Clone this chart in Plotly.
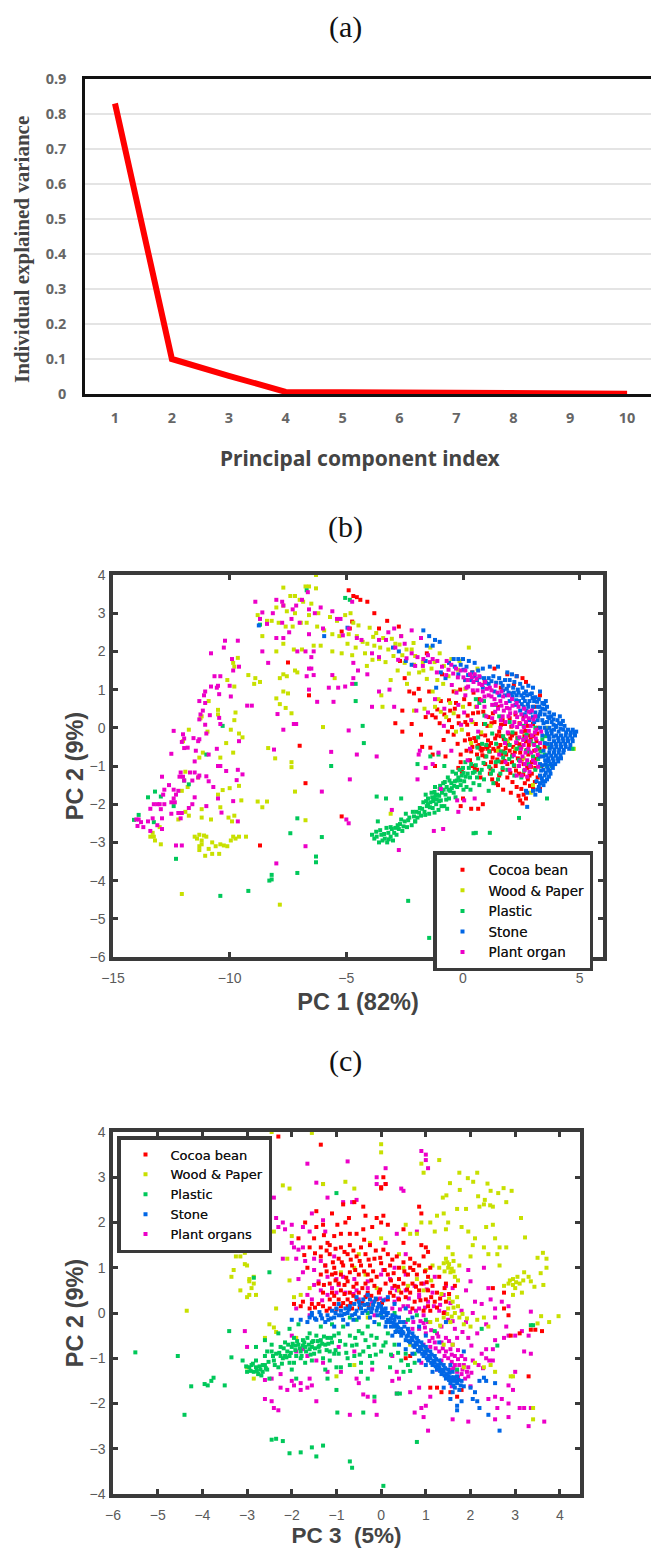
import plotly.graph_objects as go

PC_INDEX = [1, 2, 3, 4, 5, 6, 7, 8, 9, 10]
EXPLAINED = [0.83, 0.10, 0.052, 0.006, 0.005, 0.004, 0.002, 0.001, 0.001, 0.001]

COLORS = {"cocoa": "#ff0000", "wood": "#c8e000", "plastic": "#00c85a", "stone": "#0066e6", "plant": "#ec00c8"}

COCOA_B = [(-4.9,3.6),(-4.7,3.45),(-4.55,3.42),(-4.4,3.35),(-4.1,3.3),(-3.8,3.0),(-3.25,2.8),(-2.75,2.65),(-3.6,2.6),(-4.75,2.78),(-5.2,2.52),(-4.85,2.6),(-7.5,1.71),(-6.6,.85),(-7.0,-.47),(-6.75,-1.45),(-8.7,-3.08),(-5.2,-2.32),
(-2.5,1.3),(-2.3,.95),(-2.1,.9),(-1.9,1.02),(-2.6,.45),(-2.9,.12),(-2.6,-.1),(-2.2,.1),(-1.8,-.18),(-1.75,-.5),(-1.4,-.52),(-1.3,-.7),(-1.1,.48),(-1.0,.12),(-.8,.35),(-.6,.2),(-.4,-.18),(-.35,.5),(-.4,.95),(-.2,.3),(-.1,-.7),(-.2,-1.05),(-.1,-.9),(.1,.15),(.2,.32),(.3,-.3),(.35,-.62),(.4,-.5),(.45,.92),(.5,-1.05),(.6,-1.1),(.55,.1),(.65,.4),(.7,-.45),(.75,-.55),(.8,-.6),(.85,-.55),(.9,.1),(.95,-.95),(1.0,-.5),(1.05,-.55),(1.1,.28),(1.15,-.62),(1.2,-.4),(1.25,-1.35),(1.3,-.55),(1.35,.15),(1.4,-.6),(1.45,-.2),(1.5,-1.5),(1.55,-.1),(1.6,-.45),(1.65,-.9),(1.7,-1.1),(1.75,-.3),(1.8,.1),(1.85,-.7),(1.9,-1.3),(1.95,-.15),(2.0,-.6),(2.05,-1.7),(2.1,-.2),(2.15,-.5),(2.2,-1.0),(2.25,-.15),(2.3,-.4),(2.35,-.8),(2.4,-1.2),(2.45,-1.9),(2.5,-.5),(2.55,-.1),(2.6,-.95),(2.65,-1.45),(2.7,-.35),(2.75,-1.05),(2.8,-.7),(2.85,-1.25),(2.9,-.3),(2.95,-.9),(3.0,-1.55),(3.05,-.6),(3.1,-1.05),(3.15,-.35),(3.2,-1.3),(3.25,-.75),(3.3,-1.6),(3.35,-1.0),(2.55,-1.98),(2.7,-1.85),(.85,-2.0),(.65,-2.12),(.35,-2.12),(-.1,-2.05),(.0,-1.85),(.1,1.25),(.4,1.45),(1.35,1.55),(1.9,1.4),(2.3,1.35),(2.55,1.3),(2.7,1.2),(3.3,.85),(-.3,.65),(.05,.75),(-1.55,1.95),(-2.7,1.75),(-.9,1.4),(-.75,-.75),(-1.2,-1.0),(-.05,-1.15),(.75,-1.3),(1.2,-.9),(.95,-.2),(.55,-.35),(.3,-.85),(.15,-.6),(-.65,-.1),(-1.6,.28),(-.95,.7),(-1.45,.95),(-.55,.45),(.7,.75),(1.5,.55),(1.05,.05),(1.7,.2),(2.25,.35),(2.6,.3),(3.0,.1),(3.5,-.5),(2.85,-.2),(2.1,-.9),(1.55,-1.25),(1.15,-1.2),(1.9,-.95),(2.45,-.65),(3.2,.0),(1.4,-1.0),(.4,-1.0),(.6,-.7),(.95,-.75),(1.65,-.7),(2.3,-1.55),(2.95,-1.2),(2.5,-1.6),
(.62,-.48),(.83,-.72),(1.12,-.47),(1.27,-.78),(1.52,-.53),(1.73,-.62),(1.92,-.42),(2.12,-.71),(2.33,-.27),(2.52,-.83),(2.73,-.58),(2.91,-1.02),(3.12,-.81),(1.07,-.33),(1.38,-.28),(1.62,-.22),(1.83,-.53),(2.03,-.28),(2.22,-.63),(2.42,-.43),(2.63,-.22),(2.82,-.45),(3.02,-.22),(3.28,-.55),(1.18,-1.07),(1.47,-.83),(1.78,-.87),(2.03,-1.18),(2.27,-1.12),(2.58,-1.22),(2.78,-1.35),(3.08,-1.42),(2.87,-1.52),(.48,-.27),(.77,-.17),(1.22,.12),(1.63,.08),(2.07,.03),(2.42,.12),(2.77,.05),(.18,.08),(-.18,.12),(-.47,.02),(-.83,-.32),(-1.17,.27),(-.23,-.42),(.43,.38),(.87,.42),(1.28,.38),(2.0,.25),(.08,-.33),(.22,-.17),(-.6,.72),(-1.85,.72),(-1.32,.33),(-.12,1.0),(.28,.62),(.93,1.22),(1.62,1.05),(2.18,1.12),(3.05,.55),(3.18,-.15),(2.68,-.08),(1.42,-1.45),(1.72,-1.62),(2.12,-1.42),(2.38,-1.78),(2.6,-1.75)]

WOOD_B = [(-6.3,4.0),(-6.6,3.7),(-6.75,3.7),(-6.3,3.65),(-7.7,3.67),(-7.4,3.45),(-7.2,3.45),(-7.0,3.35),(-6.85,3.3),(-6.5,3.25),(-7.7,3.2),(-8.0,3.15),(-7.55,3.05),(-7.2,3.0),(-6.6,2.95),(-6.2,3.0),(-5.7,2.9),(-5.4,2.8),(-8.8,2.95),(-8.4,2.8),(-8.2,2.8),(-7.9,2.75),(-7.6,2.65),(-7.3,2.65),(-6.95,2.75),(-6.7,2.75),(-6.25,2.65),(-5.95,2.55),(-5.6,2.45),(-5.3,2.4),(-4.9,2.45),(-4.7,2.75),(-4.55,2.4),(-4.3,2.25),(-4.1,2.2),(-3.8,2.15),(-8.6,2.4),(-8.0,2.0),(-7.7,2.2),(-7.25,2.05),(-6.9,2.05),(-6.4,2.15),(-6.1,2.15),(-5.6,2.0),(-5.2,1.95),(-4.95,2.2),(-4.6,2.1),(-4.2,1.95),(-3.6,1.8),(-3.2,2.05),(-2.9,2.2),(-2.6,1.9),(-2.2,2.05),(-1.8,2.35),(-1.4,2.1),(-1.0,1.95),(-.5,1.8),(-.15,1.75),(.25,2.1),(-3.1,1.25),(-2.8,1.5),(-2.5,1.7),(-2.1,1.65),(-1.7,1.5),(-1.35,1.55),(-1.1,1.25),(-.85,1.15),(-.3,.95),(.0,.55),(-.55,.65),(-.4,.38),(-.05,-.05),(-9.65,1.83),(-9.8,1.6),(-9.85,1.7),(-10.1,1.25),(-9.8,1.08),(-9.2,1.38),(-8.9,1.3),(-8.7,1.2),(-8.95,1.15),(-7.7,1.4),(-7.55,1.35),(-7.85,1.3),(-7.2,1.5),(-7.1,1.45),(-7.7,.95),(-7.5,.9),(-8.0,.77),(-7.85,.62),(-7.6,.52),(-7.35,.38),(-10.5,.47),(-10.9,.7),(-11.2,.3),(-11.25,.25),(-10.95,-.1),(-10.5,.35),(-9.75,.4),(-9.8,.2),(-9.95,-.05),(-9.6,-.15),(-9.45,-.25),(-10.15,-.4),(-9.85,-.65),(-6.0,.02),(-5.5,1.3),(-11.75,-.05),(-12.0,-.35),(-8.35,-.53),(-8.05,-.8),(-7.35,-.9),(-7.35,-1.03),(-10.4,-.78),(-11.3,-.78),(-11.15,-.65),(-11.9,-1.15),(-11.8,-1.55),(-12.05,-1.65),(-11.35,-1.3),(-10.3,-1.63),(-10.0,-1.58),(-9.6,-1.52),(-10.5,-1.75),(-9.5,-1.9),(-8.8,-1.93),(-8.4,-1.93),(-8.6,-2.08),(-10.4,-2.08),(-10.05,-2.35),(-9.9,-2.45),(-9.8,-2.3),(-11.9,-2.2),(-11.75,-2.3),(-11.2,-2.13),(-11.2,-2.35),(-12.2,-2.4),(-10.8,-2.4),(-7.2,-1.67),(-6.75,-2.42),(-13.0,-2.6),(-13.3,-2.75),(-13.25,-2.85),(-13.4,-2.85),(-13.2,-2.95),(-12.95,-3.05),(-11.5,-2.85),(-11.4,-2.9),(-11.3,-2.8),(-11.2,-2.95),(-11.1,-2.82),(-11.0,-2.85),(-11.2,-3.05),(-11.3,-3.1),(-10.75,-3.0),(-10.6,-3.1),(-10.4,-3.05),(-10.25,-3.08),(-10.1,-3.1),(-9.95,-2.95),(-9.85,-2.85),(-9.75,-2.9),(-9.6,-2.85),(-9.3,-2.85),(-11.3,-3.2),(-10.9,-3.17),(-11.05,-3.35),(-10.75,-3.3),(-10.45,-3.3),(-12.05,-4.35),(-7.85,-4.63),(-3.1,-2.25),(-2.4,1.15),(-3.5,.85),(-3.45,.55),(-2.1,.45),(-1.65,.5),(-1.3,.95),(.4,.15),(3.6,.0),(.35,-.4),(1.5,-.6),(3.0,-1.5),(2.9,-1.7),(4.75,-.55),(-1.2,.55),(-.3,-.1),
(-5.05,2.95),(-4.82,3.0),(-4.48,2.68),(-4.0,2.62),(-3.72,2.48),(-3.42,2.35),(-3.05,2.33),(-2.72,2.18),(-2.42,2.05),(-2.05,1.88),(-1.72,1.72),(-1.88,1.45),(-3.88,1.78),(-4.12,1.62),(-3.32,1.72),(-2.98,1.88),(-2.32,1.42),(-1.55,1.28),(-1.22,1.72),(-.82,1.62),(-.62,1.35),(-.22,1.52),(-4.75,1.9),(-3.55,2.1),(-2.12,2.22),(-1.05,.75),(-.95,.42),(-.72,.28),(-3.85,2.38),(-2.65,2.4),(.55,.55),(.78,-.12),(1.18,.05),(1.9,-.35),(2.25,-.55),(2.6,-.8),(.1,1.02),(.62,1.55)]

PLASTIC_B = [(-14.1,-2.41),(-13.9,-2.28),(-13.5,-1.82),(-13.2,-1.67),(-13.25,-2.47),(-12.4,-2.05),(-11.75,-1.48),(-12.95,-1.8),(-11.95,-1.38),(-11.0,-.7),(-10.3,.05),(-8.7,2.7),(-6.7,3.6),(-4.85,3.35),(-5.05,3.4),(-7.1,-2.37),(-7.4,-2.76),(-6.05,-2.86),(-5.65,-1.0),(-12.3,-3.43),(-10.4,-4.4),(-9.2,-4.27),(-8.2,-3.85),(-8.2,-3.97),(-8.3,-4.0),(-7.1,-3.8),(-6.3,-3.37),(-6.3,-3.52),(-4.6,.7),(-4.6,1.15),(-2.35,-4.53),(-1.45,-5.5),(2.4,-2.36),(1.15,-2.75),(.55,-2.75),(.45,-2.76),(-3.7,-1.8),(-3.3,-1.85),(-2.65,-1.85),(-1.4,-.75),(-1.95,-.95),(-1.05,-.7),(-4.3,.05),(-4.25,-.4),
(-3.9,-2.8),(-3.8,-2.9),(-3.7,-2.85),(-3.6,-3.0),(-3.5,-2.8),(-3.45,-2.95),(-3.35,-2.9),(-3.25,-3.0),(-3.2,-2.75),(-3.1,-2.85),(-3.05,-2.65),(-3.0,-2.95),(-2.95,-2.75),(-2.85,-2.8),(-2.8,-2.55),(-2.75,-2.65),(-2.65,-2.4),(-2.6,-2.7),(-2.5,-2.45),(-2.4,-2.6),(-2.3,-2.35),(-2.2,-2.55),(-2.15,-2.2),(-2.05,-2.45),(-2.0,-2.2),(-1.95,-2.35),(-1.85,-2.1),(-1.8,-2.3),(-1.7,-1.95),(-1.65,-2.2),(-1.6,-1.75),(-1.55,-2.05),(-1.5,-1.85),(-1.45,-2.25),(-1.4,-1.95),(-1.35,-1.7),(-1.3,-2.1),(-1.25,-1.85),(-1.2,-1.55),(-1.15,-2.0),(-1.1,-1.75),(-1.05,-2.15),(-1.0,-1.6),(-.95,-1.9),(-.9,-1.7),(-.85,-1.45),(-.8,-2.05),(-.75,-1.75),(-.7,-1.55),(-.65,-1.3),(-.6,-1.85),(-.55,-1.65),(-.5,-1.45),(-.45,-1.15),(-.4,-1.7),(-.35,-1.4),(-.3,-1.2),(-.25,-1.55),(-.2,-1.3),(-.15,-1.1),(-.1,-1.5),(-.05,-1.25),(.0,-1.05),(.05,-1.4),(.1,-.9),(.15,-1.55),(.2,-1.2),(.3,-1.3),(.35,-.95),(.45,-1.45),(.5,-1.15),(.6,-1.3),(.65,-.8),(.7,-1.5),(.8,-1.1),(.9,-1.35),(1.0,-.75),(1.1,-1.65),(1.2,-1.2),(1.3,-1.45),(1.4,-.9),(1.5,-1.35),(1.6,-1.2),(1.7,-1.05),(1.8,-.65),(1.9,-1.1),(2.0,-.45),(2.1,-.75),(2.2,-1.25),(2.3,-.55),(2.4,-.85),(2.5,-1.3),(2.6,-.3),(2.7,-.6),(2.8,-.95),(2.9,-.35),(3.0,-.75),(3.1,-1.1),(3.2,-.5),(3.3,-1.0),(3.4,-.3),(3.5,-.7),(3.6,-1.0),(3.7,-.5),(3.8,-1.0),(4.7,-.55),(3.6,-1.85),(.7,.65),(.95,.1),(.65,-.25),(1.0,-.45),(1.25,-.15),(1.55,.3),(2.0,.15),(.55,.75),(3.1,.0),(2.6,.05),(-.8,-1.0),(.9,.7),(1.35,.6),(-2.05,-2.45),(-3.1,-2.6),(-2.45,-2.25),(-3.65,-2.45),
(-3.72,-2.72),(-3.55,-2.68),(-3.38,-2.78),(-3.28,-2.62),(-3.18,-2.92),(-2.9,-2.62),(-2.7,-2.52),(-2.55,-2.58),(-2.35,-2.42),(-2.1,-2.32),(-1.88,-2.22),(-1.75,-2.12),(-1.58,-1.92),(-1.42,-2.08),(-1.28,-1.92),(-1.12,-1.88),(-1.02,-1.78),(-.92,-2.05),(-.83,-1.62),(-.72,-1.88),(-.62,-1.62),(-.48,-1.58),(-.38,-1.52),(-.27,-1.38),(-.12,-1.38),(.02,-1.18),(.12,-1.28),(.25,-1.05),(.42,-1.18),(.55,-.98),(.72,-1.18),(.88,-.92),(1.12,-1.02),(1.28,-1.12),(1.52,-.88),(1.72,-.78),(1.98,-.82),(2.18,-.98),(2.35,-.28),(2.62,-1.12),(2.82,-.62),(3.22,-.82),(-1.22,-1.68),(-1.02,-1.92),(-.58,-1.38),(-1.5,-2.0),(-1.32,-1.82),(-.78,-1.42),(-1.18,-1.78),(-.98,-1.52),
(-1.62,-2.28),(-1.22,-2.22),(-.68,-2.12),(-.32,-1.82),(.02,-1.62),(.32,-1.62),(.62,-.52),(.82,-.42),(1.12,-.62),(1.42,-.42),(1.62,-.62),(1.82,-.32),(2.12,-.12),(2.42,-.52),(2.72,-.18),(3.02,-.42),(3.32,-.62),(3.52,-.22),(1.72,-.22),(.92,.32)]

STONE_B = [(-5.95,2.4),(-4.95,2.62),(-8.75,2.68),(-1.7,2.55),(-1.45,2.4),(-1.2,2.3),(-1.0,2.25),(-1.55,2.15),(-1.3,2.15),(-3.0,2.1),(-2.75,2.0),(-2.45,1.75),(-2.2,1.65),(-.4,1.8),(-.2,1.8),(.0,1.8),(.25,1.75),(.5,1.7),(-.6,1.7),(-.35,1.6),(-.1,1.65),(.15,1.6),(.4,1.45),(.65,1.5),(.85,1.55),(1.15,1.6),(1.5,1.6),(1.9,1.45),(2.1,1.4),(2.3,1.35),(.9,1.3),(1.1,1.3),(1.3,1.35),(1.55,1.3),(1.8,1.25),(2.0,1.25),(2.2,1.2),(2.45,1.15),(1.7,1.1),(1.95,1.1),(2.15,1.05),(2.35,1.0),(2.55,1.05),(2.7,.95),(2.05,.9),(2.3,.85),(2.5,.85),(2.75,.85),(2.95,.9),(3.1,.8),(2.4,.7),(2.65,.7),(2.85,.7),(3.05,.7),(3.25,.75),(3.4,.65),(2.6,.55),(2.8,.55),(3.0,.55),(3.2,.55),(3.4,.5),(3.6,.55),(3.7,.4),(2.9,.4),(3.1,.4),(3.3,.35),(3.5,.35),(3.7,.25),(3.9,.35),(4.05,.2),(3.2,.2),(3.4,.2),(3.6,.15),(3.8,.15),(4.0,.05),(4.2,.1),(4.35,.05),(3.5,.0),(3.7,.0),(3.9,-.05),(4.1,-.1),(4.3,-.05),(4.5,-.05),(4.7,-.05),(4.85,-.1),(3.6,-.15),(3.8,-.15),(4.0,-.2),(4.2,-.2),(4.4,-.2),(4.6,-.2),(4.8,-.2),(3.7,-.3),(3.9,-.35),(4.1,-.35),(4.3,-.35),(4.5,-.35),(4.7,-.35),(3.8,-.5),(4.0,-.5),(4.2,-.5),(4.4,-.5),(4.6,-.45),(3.7,-.65),(3.9,-.65),(4.1,-.65),(4.3,-.65),(4.05,-.8),(3.85,-.8),(3.65,-.8),(3.45,-.75),(4.2,-.8),(3.55,-.95),(3.75,-.95),(3.95,-.95),(3.3,-.95),(3.45,-1.1),(3.65,-1.1),(3.85,-1.05),(3.3,-1.25),(3.5,-1.25),(3.75,-1.2),(3.4,-1.4),(3.6,-1.35),(3.15,-1.4),(3.25,-1.55),(3.45,-1.5),(3.3,-1.65),(3.0,-1.65),(3.1,-1.75),(2.75,-1.7),(2.75,-2.07),(2.7,-1.65),(.35,1.25),(.6,1.25),(.1,1.25),(-.2,1.4),(.85,1.05),(1.1,1.15),(1.35,.95),(1.55,.85),(1.8,.85),(2.0,.7),(2.25,.6),(2.45,.45),(2.65,.35),(2.85,.2),(3.05,.15),(3.3,.0),(3.4,-.2),(3.5,-.4),(3.45,-.6),(3.3,-.75),(4.15,.3),(3.55,.7),(3.3,.95),(3.0,1.05),(2.8,1.1),(-.75,1.3),(-1.15,1.05),(-.95,1.45),(-1.6,1.75),
(1.62,1.18),(1.88,1.02),(2.12,.82),(2.38,.92),(2.58,.78),(2.78,.62),(2.98,.78),(3.18,.68),(3.32,.42),(3.52,.48),(3.78,.3),(2.72,.45),(3.0,.28),(3.22,.3),(3.45,.12),(3.65,.28),(3.88,.22),(4.12,.12),(4.28,.18),(3.58,-.07),(3.78,-.07),(3.98,.02),(4.18,-.02),(4.42,-.12),(4.62,-.12),(4.78,-.13),(3.68,-.22),(3.88,-.23),(4.08,-.27),(4.28,-.28),(4.48,-.28),(4.68,-.28),(3.62,-.42),(3.78,-.42),(3.98,-.42),(4.18,-.42),(4.38,-.42),(4.55,-.55),(3.72,-.55),(3.92,-.57),(4.12,-.57),(4.32,-.58),(3.58,-.72),(3.78,-.73),(3.98,-.73),(4.18,-.72),(3.52,-.85),(3.68,-.88),(3.88,-.88),(4.08,-.88),(3.42,-.98),(3.62,-1.02),(3.82,-.98),(3.35,-1.12),(3.55,-1.18),(3.72,-1.12),(3.38,-1.32),(3.52,-1.4),(3.68,-1.28),(3.3,-1.45),(3.18,-1.62),(1.42,1.18),(1.22,1.22),(.98,1.18),(.72,1.32),(.5,1.35),(.22,1.38),(.02,1.52),(2.52,.62),(2.28,.72),(2.18,.92),(1.95,.92),(1.72,.98),(3.88,.08),(3.28,.55),(3.48,.62),(2.88,.88),(2.62,.9)]

PLANT_B = [(-8.9,3.3),(-8.0,3.35),(-7.75,3.3),(-7.7,3.2),(-7.3,3.1),(-7.15,3.2),(-6.9,3.35),(-6.65,3.55),(-6.1,3.15),(-5.6,3.05),(-5.25,2.85),(-4.75,3.3),(-8.6,3.02),(-8.7,2.85),(-8.4,2.72),(-8.15,3.0),(-7.75,2.75),(-7.35,2.85),(-7.0,2.75),(-6.6,3.1),(-6.35,3.0),(-6.0,2.6),(-5.4,2.85),(-5.15,2.42),(-4.9,2.6),(-4.55,2.35),(-4.35,2.3),(-7.45,2.5),(-8.0,2.35),(-7.7,2.35),(-7.1,2.0),(-6.75,2.0),(-6.6,2.45),(-6.4,2.0),(-6.5,1.85),(-6.5,1.55),(-6.4,1.38),(-6.7,1.35),(-6.6,1.55),(-5.6,1.38),(-5.35,1.05),(-5.05,1.08),(-4.75,1.15),(-4.7,1.3),(-4.5,1.5),(-4.7,1.7),(-4.1,1.4),(-3.9,1.95),(-3.6,2.3),(-3.2,2.5),(-2.95,2.6),(-2.65,2.4),(-2.2,2.55),(-1.8,2.35),(-8.6,2.0),(-8.35,1.7),(-9.6,1.6),(-9.85,1.5),(-9.9,1.8),(-10.25,2.1),(-10.2,2.28),(-9.65,2.28),(-10.8,1.95),(-10.0,1.1),(-10.4,1.35),(-10.65,1.35),(-10.5,1.1),(-10.55,1.05),(-10.8,1.08),(-10.45,.88),(-9.95,.82),(-11.05,.95),(-11.1,.85),(-11.3,.7),(-11.05,.65),(-11.15,.45),(-11.25,.35),(-11.3,.22),(-10.85,.33),(-10.45,.26),(-11.05,.08),(-10.4,.1),(-11.0,-.15),(-11.3,-.3),(-11.35,-.35),(-9.25,.58),(-9.05,.58),(-7.95,.36),(-7.15,.1),(-7.25,.1),(-7.7,-.05),(-8.1,-.57),(-5.65,-.63),(-4.55,-.7),(-4.9,-.07),(-5.55,.68),(-6.25,.68),(-5.75,1.05),(-6.6,1.0),(-5.0,-2.4),(-4.9,-2.5),(-4.85,-1.35),(-6.05,-1.67),(-6.75,-3.1),(-8.0,-3.55),(-12.4,-.08),(-12.5,-.68),(-12.0,-.17),(-11.95,-.28),(-12.05,-.37),(-11.8,-.52),(-11.95,-.53),(-11.55,-.27),(-11.45,-.6),(-11.5,-.88),(-10.5,-1.0),(-10.4,-1.0),(-10.15,-1.13),(-10.55,-.55),(-10.9,-.7),(-9.6,-.35),(-9.65,-1.1),(-9.45,-1.22),(-9.7,-1.37),(-9.85,-1.92),(-9.65,-2.45),(-10.5,-1.85),(-10.35,-2.22),(-11.0,-1.27),(-10.9,-1.4),(-10.7,-1.55),(-11.35,-1.3),(-11.5,-1.17),(-11.3,-1.25),(-11.7,-1.17),(-11.6,-1.38),(-12.1,-1.17),(-12.15,-1.28),(-11.95,-1.38),(-12.0,-1.28),(-12.9,-1.28),(-12.6,-1.5),(-12.8,-1.62),(-12.4,-1.62),(-12.2,-1.65),(-12.3,-1.75),(-12.4,-1.85),(-12.5,-1.95),(-12.35,-1.95),(-12.85,-1.75),(-13.0,-2.0),(-13.1,-2.0),(-13.25,-2.0),(-12.8,-2.0),(-13.4,-2.12),(-12.95,-2.13),(-12.5,-2.25),(-12.2,-2.23),(-12.05,-2.23),(-11.6,-2.0),(-11.75,-2.1),(-12.1,-2.37),(-13.3,-2.37),(-12.9,-2.37),(-14.0,-2.4),(-13.9,-2.4),(-13.8,-2.47),(-13.95,-2.57),(-13.7,-2.6),(-13.5,-2.45),(-13.1,-2.55),(-13.4,-2.7),(-12.9,-2.65),(-12.3,-3.08),(-12.05,-3.08),(-11.5,-1.82),(-11.0,-2.05),
(-3.6,1.85),(-3.3,2.3),(-2.9,2.1),(-2.5,2.2),(-2.2,1.95),(-1.95,1.85),(-1.7,1.8),(-1.5,1.9),(-1.3,1.8),(-1.1,1.75),(-.9,1.6),(-.7,1.75),(-.5,1.65),(-.3,1.55),(-.1,1.5),(.1,1.5),(.3,1.4),(.5,1.4),(.7,1.35),(.2,1.25),(.45,1.2),(.7,1.15),(.95,1.2),(1.15,1.05),(1.4,1.1),(1.65,.95),(.85,.95),(1.1,.85),(1.35,.75),(1.6,.7),(1.85,.65),(2.1,.75),(2.3,.65),(1.25,.6),(1.5,.5),(1.75,.45),(2.0,.5),(2.25,.4),(2.5,.35),(2.7,.3),(2.95,.45),(3.1,.3),(1.95,.3),(2.2,.15),(2.45,.1),(2.7,.15),(2.9,.05),(3.15,-.05),(2.5,-.1),(2.7,-.25),(2.95,-.2),(2.6,-.45),(2.8,-.55),(3.05,-.45),(2.55,-.75),(2.75,-.85),(3.0,-.85),(2.4,-1.0),(2.65,-1.1),(2.85,-1.15),(2.3,-1.25),(3.2,-.7),(3.3,-.4),(3.35,-.1),(-.2,.6),(.1,.85),(.6,.55),(.35,.2),(.65,-.1),(.3,-.55),(.2,-.85),(-.5,-.6),(-1.05,-.65),(-1.3,-.95),(-1.6,-1.05),(-1.9,-.7),(-1.95,-1.35),(-1.85,-.6),(-.95,-1.6),(-.25,-1.9),(.05,-1.9),(.5,-1.85),(-.2,-2.2),(-.85,-2.65),(-1.25,-2.7),(-2.75,-3.2),(-3.05,-2.15),(-3.7,-.75),(-.8,.5),(-1.2,.75),(-1.5,.4),(-2.0,.45),(-2.95,.55),(-3.15,1.0),(-3.6,.95),(-3.9,.55),(1.25,.25),(1.6,.0),(1.8,-.4),(1.55,-.7),(2.0,-1.1),(1.7,.3),(1.0,.3),
(-.62,1.52),(-.42,1.42),(-.22,1.32),(.02,1.32),(.22,1.08),(.38,1.32),(.58,1.28),(.82,1.12),(1.02,1.02),(1.22,.98),(.62,.98),(.42,.98),(.92,.82),(1.22,.82),(1.48,.92),(1.72,.82),(1.95,.85),(1.42,.62),(1.65,.58),(1.88,.52),(2.12,.58),(2.38,.55),(2.62,.5),(2.82,.42),(2.02,.38),(2.32,.28),(2.58,.22),(2.82,.25),(3.02,.22),(2.12,.05),(2.32,.02),(2.62,.02),(2.82,-.08),(3.08,-.12),(2.42,-.25),(2.58,-.32),(2.85,-.35),(3.12,-.28),(2.48,-.55),(2.68,-.65),(2.92,-.65),(3.12,-.58),(2.45,-.88),(2.65,-.95),(2.88,-1.0),(3.1,-.92),(2.52,-1.25),(2.75,-1.28),(1.82,.15),(1.62,.2),(.92,.55),(.78,.72),(.15,1.05),(-1.42,1.72),(-1.72,1.62),(-2.05,1.62),(-2.42,1.82),(-2.78,1.78),(-1.12,1.45),(-.72,1.38),(-.48,1.12),(-.28,.92),(1.38,.42),(.05,.4),(-.08,.08),(-.82,.05),(1.82,-.9),(2.18,-.72),(2.28,-.38),(1.92,-.12),(3.22,-1.02)]

COCOA_C = [(-2.3,3.9),(-1.35,3.72),(.05,3.0),(.0,2.75),(.1,2.85),(.0,2.78),(-.85,2.4),(-1.45,2.25),(-1.1,2.2),(-.8,2.0),(-.6,2.45),(-.4,2.35),(-.35,2.15),(-.1,2.1),(.05,2.15),(.0,2.0),(.85,2.35),(.9,2.2),(-1.7,2.0),(-1.45,1.9),(-1.3,1.95),(-1.85,1.65),(-1.5,1.65),(-1.2,1.55),(-1.05,1.7),(-.9,1.75),(-.7,1.75),(-.55,1.75),(-.4,1.85),(-.2,1.9),(.15,1.95),(.5,1.85),(-1.6,1.45),(-1.35,1.45),(-1.15,1.5),(-.9,1.45),(-.7,1.5),(-.45,1.45),(-.25,1.5),(.05,1.4),(.5,1.55),(.9,1.5),(1.0,1.45),(-1.35,1.25),(-1.15,1.3),(-.95,1.2),(-.75,1.3),(-.55,1.25),(-.35,1.3),(-.15,1.2),(.15,1.3),(.35,1.25),(.65,1.2),(.95,1.25),(1.05,1.35),(-1.65,1.0),(-1.25,1.05),(-1.05,1.0),(-.85,1.05),(-.65,1.05),(-.45,1.05),(-.25,1.05),(0,1.1),(.2,1.05),(.4,1.0),(.65,1.0),(.85,1.05),(1.1,1.0),(-1.35,.85),(-1.1,.85),(-.9,.85),(-.7,.9),(-.5,.85),(-.3,.85),(-.1,.8),(.15,.85),(.4,.75),(.6,.85),(.8,.85),(1.05,.8),(1.3,.8),(-1.4,.65),(-1.15,.65),(-.95,.65),(-.75,.7),(-.55,.65),(-.35,.65),(-.15,.6),(.1,.65),(.3,.6),(.5,.65),(.7,.65),(.9,.65),(1.15,.6),(1.45,.65),(-1.3,.45),(-1.1,.45),(-.9,.5),(-.7,.45),(-.5,.45),(-.3,.45),(-.05,.45),(.2,.45),(.45,.45),(.65,.45),(.85,.5),(1.05,.5),(1.25,.45),(1.65,.6),(-1.15,.3),(-.95,.3),(-.75,.3),(-.55,.3),(-.35,.35),(-.1,.3),(.15,.3),(.4,.3),(.75,.25),(1.0,.3),(1.2,.25),(1.45,.25),(-1.95,.2),(-1.8,.15),(-1.75,.25),(-1.6,.1),(-1.55,.2),(-1.4,.2),(-1.3,.15),(-1.15,.1),(-1.05,.2),(-.9,.15),(-.75,.15),(-.65,.1),(2.5,.55),(2.75,.45),(2.75,.1),(2.85,-.05),(3.35,-.37),(3.45,-.37),(3.6,-.4),(3.1,-.45),(2.9,-.5),(3.3,-1.4),(1.1,-1.65),(1.25,-1.65),(1.35,-1.75),(1.55,-1.75),(1.7,-1.85),(1.8,-1.7),(.55,-1.0),(.65,-.95),(1.1,.05),(1.4,.0),(.95,.05),(.7,.1),
(-1.28,.62),(-1.02,.72),(-.82,.62),(-.62,.58),(-.42,.55),(-.22,.72),(-.02,.52),(.22,.72),(.38,.58),(.58,.52),(.78,.58),(1.02,.68),(-1.22,.92),(-1.02,.88),(-.78,.78),(-.58,.95),(-.38,.92),(-.18,.92),(.08,.95),(.28,.88),(.52,.92),(.72,.95),(.98,.92),(-1.08,1.12),(-.88,1.12),(-.68,1.18),(-.48,1.15),(-.28,1.18),(-.02,1.22),(.25,1.18),(.5,1.12),(.75,1.1),(-1.22,1.38),(-1.02,1.42),(-.82,1.35),(-.62,1.38),(-.38,1.62),(-.12,1.38),(-1.05,.38),(-.85,.22),(-.62,.38),(-.42,.22),(-.22,.38),(.02,.22),(.28,.38),(.55,.35),(.88,.28),(1.12,.35),(1.32,.32),(-1.48,.12),(-1.22,.05),(-1.0,.08),(-.82,.42),(-.68,.22),(-.48,.12),(-.28,.18),(1.05,.15),(1.25,.12),(1.52,.42),(1.42,.55),(-1.72,1.28),(-1.48,1.32),(-1.28,1.72),(-.98,1.95),(-.72,2.1)]

WOOD_C = [(-2.45,4.0),(-1.55,3.98),(.0,3.73),(.0,3.55),(1.3,3.38),(.9,3.3),(.95,3.1),(-.8,2.9),(-.6,2.75),(-1.3,2.85),(-2.2,2.82),(-2.05,2.75),(1.75,3.1),(2.15,3.1),(1.94,2.98),(2.06,2.9),(2.38,2.86),(2.74,2.76),(2.92,2.7),(2.62,2.65),(2.45,2.7),(1.54,2.87),(1.76,2.72),(1.46,2.6),(1.38,2.55),(2.17,2.58),(2.32,2.5),(2.44,2.38),(2.5,2.35),(2.3,2.4),(2.2,2.35),(1.9,2.3),(2.8,2.45),(3.13,2.1),(3.22,1.67),(3.62,1.33),(3.7,1.2),(3.5,1.22),(3.7,1.0),(3.63,.62),(3.43,.58),(3.57,.88),(2.95,.75),(2.85,.65),(2.75,.6),(3.05,.8),(3.2,.9),(3.3,.8),(3.35,.7),(3.0,.55),(3.1,.65),(3.15,.45),(2.95,.4),(3.97,-.07),(3.76,-.2),(3.58,-.07),(3.5,-.23),(1.7,2.3),(1.4,2.2),(1.25,2.15),(1.1,2.0),(.9,2.0),(.55,1.95),(.65,1.75),(.8,1.75),(1.2,1.8),(1.45,1.85),(1.5,2.0),(1.8,1.9),(1.95,1.8),(2.1,1.65),(2.35,1.9),(2.5,1.95),(2.55,1.65),(2.65,1.45),(2.3,1.45),(2.05,1.5),(2.8,1.45),(2.6,1.3),(2.65,1.05),(2.0,1.25),(2.4,1.3),(1.5,1.45),(1.6,1.3),(1.45,1.2),(1.4,1.1),(1.5,1.0),(1.55,.9),(1.65,.8),(1.75,1.05),(1.3,1.0),(1.15,1.05),(1.0,.95),(.5,1.0),(.4,1.3),(1.7,.35),(1.6,.25),(1.5,.1),(1.65,.0),(1.75,-.1),(1.55,-.2),(1.4,-.1),(1.25,-.15),(1.1,-.2),(1.85,-.25),(2.0,-.3),(2.15,-.15),(2.3,-.1),(2.4,-.3),(1.4,-.7),(1.6,-.7),(1.85,-1.2),(2.1,-1.1),(2.3,-1.2),(2.45,-1.15),(2.55,-1.3),(3.4,-2.1),(3.4,-2.35),(2.9,-1.4),(2.95,-1.4),
(-4.35,.05),(-3.15,1.25),(-3.05,1.33),(-3.05,1.08),(-3.0,1.05),(-3.25,1.25),(-3.3,.95),(-3.35,.8),(-3.15,.5),(-3.0,.35),(-2.95,.4),(-2.9,.55),(-2.85,.65),(-2.8,.4),(-2.95,.7),(-2.95,.75),(-2.85,.8),(-3.0,1.6),(-2.95,1.6),(-2.85,1.48),(-2.4,1.8),(-2.0,1.7),(-2.1,1.2),(-2.05,.72),(-1.95,.35),(-1.8,.4),(-1.6,.55),(-2.35,.1),(-2.5,-.25),(-2.4,-.32),(-2.35,-.42),(-2.6,-.55),(-2.75,-1.35),(-2.85,-1.45),(-3.0,-1.2),(-1.9,-.55),(-1.0,-1.4),(-.6,-1.15),(-.9,.9),(-.6,1.0),(-.35,.85),(-.1,.55),(.4,.5),(.6,.6),(.8,.75),(.95,.5),(-.3,-.1),(.65,-.7),(1.0,-.8),(-.25,1.55),(-.5,1.3),(.0,1.65),
(1.48,1.12),(1.52,1.08),(1.58,.98),(1.62,.92),(1.72,.72),(1.42,.92),(1.62,1.15),(1.35,.42),(1.52,.32),(1.62,.12),(1.72,.15),(1.82,-.02),(1.48,-.02),(1.32,-.28),(1.58,-.08),(1.92,-.12),(1.12,.72),(2.95,.62),(3.02,.68),(2.88,.72),(3.18,.72)]

PLASTIC_C = [(-5.5,-.87),(-4.55,-.95),(-4.25,-1.62),(-3.95,-1.57),(-3.88,-1.6),(-3.75,-1.43),(-3.8,-1.5),(-4.4,-2.25),(-3.5,-1.6),(-3.4,-.4),(-3.35,-.98),(-2.45,-2.8),(-2.35,-2.78),(-2.2,-2.83),(-2.05,-3.1),(-1.8,-3.08),(-1.55,-2.97),(-1.3,-2.93),(-1.45,-3.17),(-.7,-3.28),(-.65,-3.42),(.05,-3.82),(.8,-2.85),(-2.85,.78),(-2.5,.9),(-1.0,2.65),(-.15,-1.85),(-1.0,-1.7),(-.4,-2.2),(-.98,-2.2),(.35,-1.78),(.42,-1.78),(2.6,-.72),(3.35,-.27),(3.4,-.27),
(-3.1,-1.05),(-3.0,-1.3),(-2.95,-1.2),(-2.9,-1.15),(-2.85,-1.3),(-2.8,-1.2),(-2.8,-1.05),(-2.75,-1.35),(-2.7,-1.25),(-2.65,-1.15),(-2.65,-1.3),(-2.6,-.95),(-2.55,-1.25),(-2.5,-1.45),(-2.45,-.85),(-2.4,-1.05),(-2.35,-.9),(-2.3,-1.2),(-2.25,-.75),(-2.2,-1.0),(-2.15,-.65),(-2.1,-.85),(-2.05,-1.1),(-2.0,-.75),(-1.95,-.55),(-1.9,-.95),(-1.85,-.7),(-1.8,-.85),(-1.75,-.6),(-1.7,-.75),(-1.7,-1.1),(-1.65,-.55),(-1.6,-.8),(-1.55,-.65),(-1.5,-.9),(-1.45,-.5),(-1.4,-.75),(-1.35,-.6),(-1.3,-1.0),(-1.25,-.7),(-1.2,-.55),(-1.15,-.85),(-1.1,-.65),(-1.05,-.5),(-1.0,-1.2),(-.95,-.45),(-2.6,-.6),(-2.3,-.45),(-2.05,-.35),(-1.85,-.25),(-1.6,-.45),(-1.35,-.3),(-1.1,-.25),(-.95,-.9),(-.85,-.3),(-.8,-.7),(-.75,-1.0),(-.7,-.5),(-.6,-.95),(-.55,-.15),(-.55,-.7),(-.5,-.4),(-.45,-1.1),(-.4,-.85),(-.35,-.6),(-.3,-.3),(-.25,-.95),(-.2,-1.1),(-.15,-.7),(-.1,-.55),(-.05,-.25),(.0,-.85),(.1,-.65),(.15,-.45),(.2,-1.2),(.3,-.7),(.35,-.3),(.45,-1.05),(.55,-.9),(.6,-1.15),(.75,-1.1),(-.9,-1.2),(-.7,-1.15),(-.45,-1.3),(-.3,-1.45),(-2.15,-.95),(-1.95,-1.1),(-2.45,-.7),(-2.8,-.75),(-1.55,-1.05),(-1.25,-1.25),(-1.15,-1.05),(.5,-1.3),(.65,-1.28),(.75,-.9),(1.0,-.15),(.8,-.05),(.6,-.15),(.3,.0),(.0,-.05),(-.3,.0),(-.7,-.1),(-1.9,-1.45),(-2.0,-1.25),(-1.8,-1.0),(-2.6,-1.15),(-2.55,-.85),(-1.2,-1.45),(-1.05,-.9),(1.7,-1.25),(1.2,-.4),(2.25,-.35),
(-3.02,-1.18),(-2.92,-1.28),(-2.87,-1.12),(-2.78,-1.28),(-2.72,-1.18),(-2.68,-1.38),(-2.58,-1.22),(-2.52,-1.08),(-2.42,-.95),(-2.38,-1.15),(-2.28,-.88),(-2.22,-1.12),(-2.18,-.78),(-2.12,-.98),(-2.08,-.7),(-2.02,-.88),(-1.98,-.68),(-1.92,-.82),(-1.88,-.62),(-1.82,-.78),(-1.78,-.95),(-1.72,-.65),(-1.68,-.85),(-1.62,-.7),(-1.58,-.92),(-1.52,-.62),(-1.48,-.78),(-1.42,-.62),(-1.38,-.85),(-1.32,-.68),(-1.28,-.52),(-1.22,-.82),(-1.18,-.68),(-1.12,-.55),(-1.92,-.72),(-1.75,-.72),(-1.55,-.75),(-1.38,-.72),(-2.25,-.95),(-2.05,-.95),(-.92,-.62),(-.65,-.72),(-.48,-.92),(-.28,-.75),(-.12,-.92),(.05,-.72),(.22,-.92),(.38,-.88),(-.78,-.88),(-.58,-.55),(-.42,-.45),(-.22,-.5),(-1.02,-.82)]

STONE_C = [(-1.55,-.05),(-1.6,-.1),(-1.55,.0),(-1.45,-.15),(-1.35,-.05),(-1.25,-.2),(-1.2,-.05),(-1.1,.05),(-1.05,-.1),(-1.0,.1),(-.95,-.05),(-.9,.05),(-.85,-.15),(-.8,.1),(-.75,.0),(-.7,.15),(-.65,-.05),(-.6,.2),(-.55,.05),(-.5,.25),(-.45,.1),(-.4,.3),(-.35,.05),(-.3,.2),(-.25,.3),(-.2,.1),(-.15,.25),(-.1,.05),(-.05,.2),(.0,.0),(.0,.15),(.05,-.1),(.1,.1),(.15,-.15),(.15,.0),(.2,-.2),(.25,-.05),(.3,-.3),(.3,-.15),(.35,-.4),(.35,-.25),(.4,-.1),(.45,-.35),(.45,-.5),(.5,-.2),(.5,-.45),(.55,-.6),(.6,-.35),(.6,-.5),(.65,-.65),(.7,-.45),(.7,-.6),(.75,-.75),(.8,-.55),(.8,-.7),(.85,-.85),(.9,-.65),(.9,-.8),(.95,-.95),(1.0,-.75),(1.0,-.9),(1.05,-1.05),(1.1,-.85),(1.1,-1.0),(1.15,-1.15),(1.2,-.95),(1.2,-1.1),(1.25,-1.25),(1.3,-1.05),(1.3,-1.2),(1.35,-1.35),(1.4,-1.15),(1.4,-1.3),(1.45,-1.45),(1.5,-1.25),(1.5,-1.4),(1.55,-1.55),(1.6,-1.3),(1.6,-1.5),(1.65,-1.65),(1.7,-1.4),(1.7,-1.55),(1.75,-1.7),(1.8,-1.5),(1.85,-1.62),(2.0,-1.65),(2.1,-1.75),(2.2,-1.5),(2.3,-1.43),(2.35,-1.5),(2.55,-1.55),(2.65,-2.6),(2.15,-1.95),(2.2,-2.1),(2.4,-2.25),(2.05,-1.9),(1.7,-2.05),(1.7,-2.15),(1.55,-1.9),(1.8,-1.95),(1.6,-1.75),(1.4,-1.65),(-2.0,-.15),(-1.8,-.15),(-1.65,-.2),(.3,.2),(.15,.35),(.55,.1),(.7,-.1),(.85,-.3),(1.45,-.2),(1.0,-.5),(1.3,-.65),(1.55,-1.15),(1.85,-.85),(-.25,-.1),(-.5,-.1),(-.75,-.25),(-1.05,-.3),(-.15,-.2),(.1,-.3),(.25,-.5),(.4,-.7),(.55,-.8),(.7,-.9),(.85,-1.05),(1.0,-1.15),(1.15,-1.3),(-.95,.2),(-.55,.35),(-.3,.4),
(-1.48,-.12),(-1.32,-.12),(-1.18,-.15),(-1.02,.0),(-.88,-.05),(-.72,.08),(-.58,-.02),(-.48,.18),(-.38,.18),(-.28,.1),(-.18,.18),(-.08,.12),(.02,.08),(.08,.02),(.12,-.05),(.22,-.12),(.28,-.22),(.32,-.08),(.38,-.32),(.42,-.2),(.48,-.42),(.52,-.3),(.57,-.52),(.62,-.42),(.68,-.55),(.73,-.52),(.77,-.65),(.83,-.62),(.87,-.75),(.93,-.72),(.97,-.85),(1.03,-.82),(1.07,-.95),(1.13,-.92),(1.17,-1.05),(1.23,-1.02),(1.27,-1.15),(1.33,-1.12),(1.37,-1.25),(1.43,-1.22),(1.47,-1.35),(1.53,-1.32),(1.57,-1.42),(1.63,-1.42),(1.67,-1.5),(1.73,-1.48),(1.78,-1.6),(1.62,-1.6),(1.52,-1.48),(.62,-.62),(.72,-.72),(.82,-.82),(.92,-.9),(1.02,-1.0),(1.12,-1.1),(1.22,-1.18),(1.32,-1.28),(1.42,-1.38),(.42,-.42),(.32,-.42),(.22,-.3),(.12,-.2),(.02,-.1),(-.08,-.05),(-.22,.02),(-.42,.0),(-.62,-.15),(-.82,-.02),(-1.12,-.12),(-1.38,.02),(-.12,.32),(.05,.28)]

PLANT_C = [(-2.4,2.55),(-2.65,2.75),(-2.55,2.75),(-.75,3.35),(-.1,3.0),(-.1,2.85),(-1.65,3.3),(-1.45,2.88),(-1.3,2.85),(.9,3.58),(1.0,3.5),(1.0,3.38),(1.05,3.2),(.1,2.85),(.1,3.2),(.45,2.75),(.5,2.7),(-.85,2.45),(-.55,2.5),(-.65,2.45),(-1.2,2.55),(-2.35,2.1),(-2.2,2.0),(-2.3,1.9),(-2.15,1.85),(-2.0,1.95),(-1.55,2.2),(-1.75,1.9),(-1.6,1.8),(-1.25,1.8),(-1.3,2.05),(-2.0,1.55),(-1.85,1.4),(-1.95,1.45),(-1.75,1.45),(-1.5,1.2),(-1.35,1.15),(-2.2,1.2),(-1.9,1.2),(-1.7,1.15),(-1.25,1.05),(-1.05,1.25),(-1.2,.8),(-.85,.8),(-.6,.75),(-.3,.7),(.0,.85),(.3,1.0),(.55,1.3),(.8,1.8),(.35,1.75),(.1,1.55),(-1.65,.4),(-1.55,.3),(-1.9,.1),(-1.6,-.05),(-1.0,.45),(-1.35,.5),(-.55,.5),(-.3,.55),(-.05,.5),(.25,.55),(.55,.5),(.85,.35),(1.15,.45),(1.4,.4),(1.6,.55),(1.9,.5),(2.0,.7),(1.95,.95),(2.3,1.0),(2.4,.55),(2.05,.0),(2.25,.2),(2.1,.25),(2.45,.3),(2.55,.1),(2.7,.25),(2.85,.15),(2.55,-.1),(2.35,-.25),(2.8,-.3),(2.85,-.5),(3.0,-.5),(3.15,-.4),(3.35,0.03),(3.3,-.5),(2.55,-.6),(2.75,-.55),(2.35,-.8),(2.5,-.8),(3.2,-.85),(3.35,-.9),(2.35,-1.0),(2.5,-1.05),(3.0,-1.3),(2.85,-1.6),(2.95,-1.7),(2.7,-1.9),(2.85,-2.0),(3.1,-2.1),(2.55,-1.85),(2.4,-1.9),(2.6,-2.1),(3.2,-2.1),(3.35,-2.1),(3.3,-2.5),(3.65,-2.4),(2.55,-2.35),(2.85,-2.3),(1.95,-2.4),(1.6,-2.35),(.75,-2.2),(.9,-2.1),(1.0,-2.05),(.95,-2.3),(1.05,-2.6),(.85,-1.65),(1.1,-1.85),(.65,-1.75),(.35,-1.78),(.25,-1.5),(.4,-1.45),(-.55,-1.45),(-.5,-1.55),(-.4,-1.8),(-.3,-1.85),(-.15,-1.95),(-.7,-2.25),(-.1,-2.25),(-1.45,-1.95),
(-2.6,-1.9),(-2.45,-1.95),(-2.4,-2.1),(-2.3,-2.15),(-2.25,-1.65),(-2.1,-1.7),(-1.95,-1.6),(-1.8,-1.7),(-1.65,-1.65),(-1.55,-1.6),(-1.6,-1.45),(-1.8,-1.55),(-2.0,-1.5),(-2.25,-1.35),(-1.9,-.85),(-1.75,-.8),(-1.65,-.95),(-1.45,-1.05),(-1.3,-1.1),(-1.2,-1.3),(-2.0,-.5),(-3.05,-.4),(-3.0,-.75),(-2.6,-1.48),(-2.45,-1.45),(-.9,-1.3),(-.95,-.75),(-.6,-.85),(-.2,-1.25),(.35,-1.3),(.25,-.95),(.55,-.2),(.7,-.35),(.6,.15),(.3,.25),(-.15,-.05),(-.5,.3),(-.8,.45),(.85,.1),(.95,-.05),(.85,-.35),(1.05,-.2),(1.0,-.45),(1.15,-.55),(1.25,-.45),(.95,-.7),(1.1,-.75),(1.2,-.65),(1.35,-.65),(1.45,-.55),(1.3,-.85),(1.45,-.85),(1.55,-.8),(1.6,-.7),(1.35,-1.05),(1.5,-1.0),(1.65,-.95),(1.8,-.95),(1.65,-1.15),(1.75,-1.15),(1.85,-1.15),(1.95,-1.2),(1.55,-1.25),(1.7,-1.3),(1.8,-1.35),(1.95,-1.4),(1.6,-1.45),(1.35,-.3),(1.5,-.15),(1.65,-.35),(.75,.6),(.95,.65),(1.2,.8),(1.45,.6),(.5,.15),(.35,.5),(.1,.3),(-.2,.25),(.85,.4),(1.05,.25),(1.3,.05),(1.8,.05),(1.9,-.2),(1.95,-.55),(2.25,-.9),(2.05,-1.05),(2.15,-.45),(1.7,-.55),(1.25,-1.25),(1.05,-1.0),(.9,-1.1),(-1.0,.75),(-1.1,.55),(-1.4,.7),(-1.5,.95),(-1.75,.9),(-1.2,.4),(-1.85,.75),(.05,.95),(.2,.75),(.55,.85),
(.98,-.32),(1.12,-.38),(1.08,-.62),(1.28,-.52),(1.22,-.78),(1.38,-.78),(1.52,-.62),(1.42,-.95),(1.58,-.92),(1.72,-.82),(1.58,-1.08),(1.72,-1.02),(1.88,-1.02),(1.62,-1.22),(1.82,-1.25),(1.92,-1.3),(1.72,-1.42),(1.88,-1.45),(2.02,-1.32),(.72,-.2),(.88,-.18),(.95,-.22),(.65,.02),(.78,.05),(.42,.08),(.25,.1),(.98,.12),(1.18,.15),(1.42,.02),(1.6,-.18),(1.82,-.42),(2.02,-.72),(1.32,.18),(1.55,.22),(1.02,.52),(.62,.32),(.38,.32),(-.02,.32),(-.32,.38),(-.62,.42),(-.95,.62),(-1.32,.28),(-1.5,.62),(2.18,-1.15),(2.42,-1.05),(2.28,-1.22),(1.58,-1.62),(2.0,-1.62)]

FIG_W = 651
FIG_H = 1548


def fx(px):
    return px / FIG_W


def fy(py):
    return 1 - py / FIG_H


def scatter(points, name, color, xa, ya, legend, show=True):
    xs, ys = zip(*points)
    return go.Scatter(x=xs, y=ys, mode="markers", name=name, xaxis=xa, yaxis=ya, legend=legend, showlegend=show,
                      marker=dict(symbol="square", size=4, color=color, line=dict(width=0)))


fig = go.Figure()
fig.add_trace(go.Scatter(x=PC_INDEX, y=EXPLAINED, mode="lines", line=dict(color="#ff0000", width=6),
                         showlegend=False, xaxis="x", yaxis="y"))

NAMES_B = ["Cocoa bean", "Wood & Paper", "Plastic", "Stone", "Plant organ"]
NAMES_C = ["Cocoa bean", "Wood & Paper", "Plastic", "Stone", "Plant organs"]
KEYS = ["cocoa", "wood", "plastic", "stone", "plant"]
for pts, nm, key in zip([COCOA_B, WOOD_B, PLASTIC_B, STONE_B, PLANT_B], NAMES_B, KEYS):
    fig.add_trace(scatter(pts, nm, COLORS[key], "x2", "y2", "legend"))

# Panel (c): the legend keeps the reading order while stone is painted last.
for nm, key in zip(NAMES_C, KEYS):
    fig.add_trace(go.Scatter(x=[None], y=[None], mode="markers", name=nm, xaxis="x3", yaxis="y3", legend="legend2",
                             marker=dict(symbol="square", size=4, color=COLORS[key], line=dict(width=0))))
c_series = dict(zip(KEYS, [COCOA_C, WOOD_C, PLASTIC_C, STONE_C, PLANT_C]))
c_names = dict(zip(KEYS, NAMES_C))
for key in ["plant", "wood", "plastic", "cocoa", "stone"]:
    fig.add_trace(scatter(c_series[key], c_names[key], COLORS[key], "x3", "y3", "legend2", show=False))

INK = "#3a3a3a"
TICK = dict(family="Liberation Sans, Arial, sans-serif", size=14, color="#5a5a5a")
TITLE = dict(family="Liberation Sans, Arial, sans-serif", size=23.5, color="#444444", weight="bold")
AFONT = dict(family="Noto Sans, sans-serif", size=14.5, color="#666666", weight="bold")
LEG_SHADOW = "0 0 0.6px #555555"


def frame(**kw):
    base = dict(showgrid=False, zeroline=False, showline=True, linecolor=INK, linewidth=3.5, mirror="allticks",
                ticks="inside", ticklen=5, tickwidth=3, tickcolor=INK, tickfont=TICK, ticklabelstandoff=5)
    base.update(kw)
    return base


annotations = [
    dict(text=t, x=fx(345), y=fy(py), xref="paper", yref="paper", showarrow=False, xanchor="center",
         yanchor="middle", font=dict(family="Liberation Serif, serif", size=30, color="#111111"))
    for t, py in [("(a)", 27), ("(b)", 527), ("(c)", 1061)]
]
annotations.append(dict(text="Principal component index", x=fx(360), y=fy(458), xref="paper", yref="paper",
                        showarrow=False, xanchor="center", yanchor="middle",
                        font=dict(family="Noto Sans, sans-serif", size=21, color="#444444", weight="bold")))
annotations.append(dict(text="Individual explained variance", x=fx(22), y=fy(250), xref="paper", yref="paper",
                        showarrow=False, xanchor="center", yanchor="middle", textangle=-90,
                        font=dict(family="Liberation Serif, serif", size=21, color="#444444", weight="bold")))

fig.update_layout(
    width=FIG_W, height=FIG_H, autosize=False, margin=dict(l=0, r=0, t=0, b=0, pad=0, autoexpand=False),
    paper_bgcolor="white", plot_bgcolor="white",
    xaxis=dict(domain=[fx(85), 1], range=[0.473, 10.42], tickvals=PC_INDEX, showgrid=False, zeroline=False,
               showline=True, mirror=True, linecolor="#111111", linewidth=2.5, ticks="", tickfont=AFONT,
               ticklabelstandoff=9, anchor="y"),
    yaxis=dict(domain=[fy(394), fy(79)], range=[0, 0.9], tick0=0, dtick=0.1, tickformat=".1~f",
               showgrid=True, gridcolor="#e4e4e4", gridwidth=1.5, zeroline=False,
               showline=True, linecolor="#111111", linewidth=2.5, ticks="", tickfont=AFONT, ticklabelstandoff=13,
               anchor="x"),
    xaxis2=frame(domain=[fx(113), fx(603)], range=[-15, 6], tickvals=[-15, -10, -5, 0, 5], anchor="y2",
                 title=dict(text="PC 1 (82%)", font=TITLE, standoff=10)),
    yaxis2=frame(domain=[fy(957), fy(575)], range=[-6, 4], tick0=-6, dtick=1, anchor="x2", ticklabelstandoff=1,
                 title=dict(text="PC 2 (9%)", font=TITLE, standoff=0)),
    xaxis3=frame(domain=[fx(113), fx(580)], range=[-6, 4.45], tick0=-6, dtick=1, anchor="y3",
                 title=dict(text="PC 3  (5%)", font=dict(TITLE, size=22.5), standoff=6)),
    yaxis3=frame(domain=[fy(1494), fy(1132)], range=[-4, 4], tick0=-4, dtick=1, anchor="x3", ticklabelstandoff=1,
                 title=dict(text="PC 2 (9%)", font=TITLE, standoff=0)),
    legend=dict(x=fx(433), y=fy(851), xanchor="left", yanchor="top", bgcolor="white", bordercolor=INK,
                borderwidth=3.5, itemwidth=42, entrywidth=142, entrywidthmode="pixels", traceorder="normal",
                font=dict(family="DejaVu Sans, sans-serif", size=13.5, color="#111111", shadow=LEG_SHADOW)),
    legend2=dict(x=fx(117), y=fy(1136), xanchor="left", yanchor="top", bgcolor="white", bordercolor=INK,
                 borderwidth=3.5, itemwidth=40, entrywidth=126, entrywidthmode="pixels", traceorder="normal",
                 font=dict(family="DejaVu Sans, sans-serif", size=13, color="#111111", shadow=LEG_SHADOW)),
    annotations=annotations,
)

fig.write_html("out.html", config={"displayModeBar": False},
               post_script="document.body.style.margin='0';document.body.style.overflow='hidden';")
